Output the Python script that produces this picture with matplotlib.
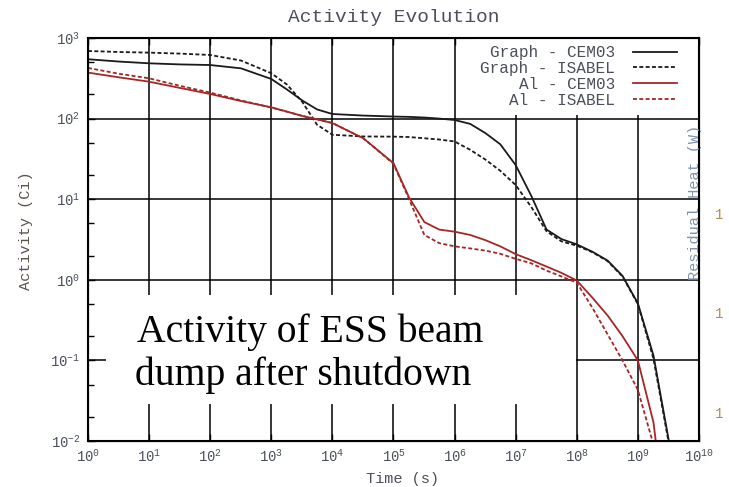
import matplotlib
matplotlib.use('Agg')
import matplotlib.pyplot as plt
from matplotlib.patches import Rectangle
from matplotlib.ticker import LogLocator, NullLocator, NullFormatter

# time after shutdown (s) and activity (Ci)
time_s = [1e0, 3.2e0, 1e1, 3.2e1, 1e2, 3.2e2, 1e3, 1.8e3, 3.2e3, 5.6e3,
          1e4, 3.2e4, 1e5, 1.8e5, 3.2e5, 5.6e5, 1e6, 1.8e6, 3.2e6, 5.6e6,
          1e7, 1.8e7, 3.2e7, 5.6e7, 1e8, 1.8e8, 3.2e8, 5.6e8, 1e9, 1.8e9,
          3.2e9, 5.6e9]
graph_cem03 = [545, 510, 485, 470, 462, 420, 310, 230, 168, 130,
               114, 109, 106, 105, 103, 100, 96, 86, 66, 48,
               26.5, 11, 4.2, 3.2, 2.75, 2.23, 1.73, 1.12, 0.51, 0.115,
               0.0102, 0.0005]
graph_isabel = [690, 670, 658, 640, 615, 525, 365, 265, 162, 84,
                63, 60, 59.7, 59, 57, 55, 52, 41, 31, 22.5,
                15, 8.0, 4.0, 3.0, 2.65, 2.2, 1.7, 1.1, 0.5, 0.105,
                0.0095, 0.0004]
al_cem03 = [372, 325, 287, 240, 202, 165, 138, 122, 108, 98,
            88, 57, 28, 10.5, 5.2, 4.2, 3.95, 3.6, 3.1, 2.6,
            2.08, 1.75, 1.46, 1.22, 0.98, 0.6, 0.36, 0.2, 0.1, 0.017,
            0.0005, 1e-5]
al_isabel = [425, 360, 316, 255, 210, 168, 137, 122, 108, 98,
             88, 57, 27.5, 10, 3.6, 2.85, 2.6, 2.45, 2.3, 2.1,
             1.82, 1.6, 1.3, 1.1, 0.92, 0.45, 0.21, 0.1, 0.043, 0.009,
             1e-4, 1e-6]

series_labels = ['Graph - CEM03', 'Graph - ISABEL', 'Al - CEM03', 'Al - ISABEL']
annotation_lines = ['Activity of ESS beam', 'dump after shutdown']
heat_ticks = [1, 10, 100]
heat_tick_labels = ['1', '1', '1']  # cut off at the right edge of the picture

BLACK = '#1a1a1a'
RED = '#a52626'
TEXT = '#4a4f5a'
DASH = (0, (2.2, 1.3))

plt.rcParams['font.family'] = ['Liberation Mono', 'DejaVu Sans']
plt.rcParams['axes.unicode_minus'] = True

fig = plt.figure(figsize=(7.29, 4.87), dpi=100)
ax = fig.add_axes([0.1207, 0.0945, 0.8381, 0.8275])

ax.plot(time_s, graph_cem03, color=BLACK, lw=1.3, label=series_labels[0])
ax.plot(time_s, graph_isabel, color=BLACK, lw=1.3, ls=DASH, label=series_labels[1])
ax.plot(time_s, al_cem03, color=RED, lw=1.3, label=series_labels[2])
ax.plot(time_s, al_isabel, color=RED, lw=1.3, ls=DASH, label=series_labels[3])

ax.set_xscale('log')
ax.set_yscale('log')
ax.set_xlim(1, 1e10)
ax.set_ylim(1e-2, 1e3)

ax.xaxis.set_major_locator(LogLocator(base=10, numticks=20))
ax.xaxis.set_minor_locator(NullLocator())
ax.yaxis.set_major_locator(LogLocator(base=10, numticks=20))
ax.yaxis.set_minor_locator(LogLocator(base=10, subs=(2, 5), numticks=20))
ax.yaxis.set_minor_formatter(NullFormatter())

ax.grid(True, which='major', color='black', lw=1.1)
for side in ['bottom', 'left', 'top', 'right']:
    ax.spines[side].set_linewidth(1.5)
ax.tick_params(which='both', direction='in', right=True, top=True,
               labelsize=10, labelcolor=TEXT, width=1.0)
ax.tick_params(which='major', length=5)
ax.tick_params(which='minor', length=4)
ax.tick_params(axis='y', pad=5.5)
ax.tick_params(axis='x', pad=5)

ax.set_title('Activity Evolution', fontsize=14, color=TEXT, pad=11.5)
ax.set_xlabel('Time (s)', fontsize=11, color=TEXT)
ax.set_ylabel('Activity (Ci)', fontsize=11, color='#5a5448')
ax.xaxis.set_label_coords(0.515, -0.077)
ax.yaxis.set_label_coords(-0.090, 0.521)

leg = ax.legend(loc='upper right', bbox_to_anchor=(0.975, 1.0), markerfirst=False,
                fontsize=11.5, frameon=True, facecolor='white', edgecolor='none',
                framealpha=1, fancybox=False, borderpad=0.45, borderaxespad=0,
                handlelength=2.75, handletextpad=1.1, labelspacing=0.05)
for t in leg.get_texts():
    t.set_color(TEXT)

# secondary axis of the original (residual heat), mostly cropped away
ax2 = ax.twinx()
ax2.set_yscale('log')
ax2.set_ylim(10 ** -0.29, 10 ** 3.76)
ax2.set_yticks(heat_ticks, heat_tick_labels)
ax2.yaxis.set_minor_locator(NullLocator())
ax2.tick_params(axis='y', length=0, pad=11.5, labelsize=10, labelcolor='#b08a50')
ax.text(0.9935, 0.593, 'Residual Heat (W)', transform=ax.transAxes, rotation=90,
        ha='center', va='center', fontsize=11, color='#7d92b0', zorder=6)

# white note pasted over the lower part of the plot
fig.add_artist(Rectangle((106 / 729, 1 - 404 / 487), 470 / 729, 109 / 487,
                         transform=fig.transFigure, facecolor='white',
                         edgecolor='none', zorder=10))
for line, xc, ybase in zip(annotation_lines, [310, 303.5], [342, 385]):
    fig.text(xc / 729, 1 - ybase / 487, line, ha='center', va='baseline',
             fontsize=28.5, family='Liberation Serif', color='black', zorder=11)

fig.savefig('out.png', dpi=100)
